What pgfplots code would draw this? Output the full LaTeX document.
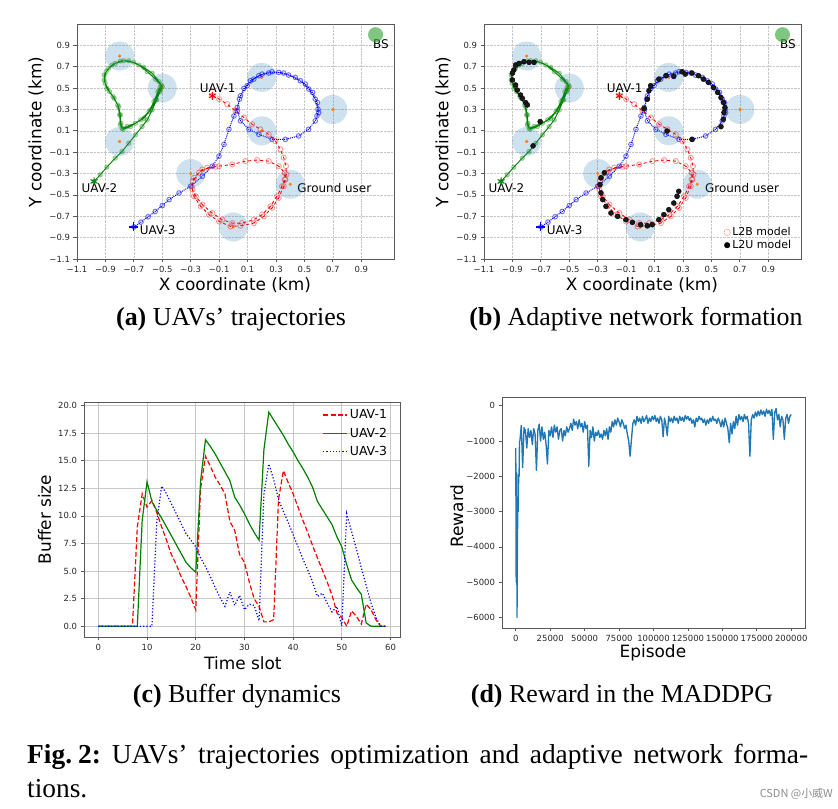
\documentclass[border=0pt]{standalone}
\usepackage{pgfplots}
\pgfplotsset{compat=1.18}
\usepackage{pgfplotstable}
\usepackage{fontspec}
\setmainfont{Liberation Serif}
\newfontfamily\dv{DejaVu Sans}
\newfontfamily\cjk{Noto Sans CJK SC}
\definecolor{tabblue}{RGB}{31,119,180}
\definecolor{taborange}{RGB}{255,127,14}
\definecolor{tabgreen}{RGB}{44,160,44}
\definecolor{mplgreen}{RGB}{0,128,0}

\pgfplotstableread[row sep=\\]{
x y \\
-0.148 0.428 \\ -0.10 0.396 \\ -0.043 0.349 \\ 0.015 0.287 \\ 0.074 0.224 \\ 0.132 0.161 \\ 0.19 0.114 \\ 0.249 0.067 \\ 0.296 0.004 \\ 0.331 -0.074 \\ 0.354 -0.152 \\ 0.37 -0.23 \\ 0.373 -0.309 \\ 0.361 -0.356 \\ 0.342 -0.419 \\ 0.307 -0.513 \\ 0.261 -0.607 \\ 0.202 -0.685 \\ 0.144 -0.732 \\ 0.062 -0.764 \\ -0.008 -0.764 \\ -0.078 -0.732 \\ -0.148 -0.67 \\ -0.218 -0.591 \\ -0.265 -0.513 \\ -0.288 -0.45 \\ -0.284 -0.372 \\ -0.242 -0.293 \\ -0.183 -0.246 \\ -0.101 -0.231 \\ -0.008 -0.215 \\ 0.085 -0.184 \\ 0.167 -0.174 \\ 0.249 -0.184 \\ 0.319 -0.231 \\ 0.361 -0.293 \\ 0.366 -0.356 \\ 0.354 -0.419 \\ 0.319 -0.528 \\ 0.272 -0.622 \\ 0.214 -0.701 \\ 0.144 -0.764 \\ 0.05 -0.789 \\ -0.02 -0.795 \\ -0.101 -0.748 \\ -0.171 -0.685 \\ -0.23 -0.607 \\ -0.277 -0.513 \\ -0.293 -0.419 \\ -0.277 -0.34 \\ -0.218 -0.262 \\ -0.125 -0.237 \\
}\redT

\pgfplotstableread[row sep=\\]{
x y \\
-0.70 -0.80 \\ -0.65 -0.755 \\ -0.60 -0.705 \\ -0.55 -0.655 \\ -0.50 -0.60 \\ -0.452 -0.544 \\ -0.382 -0.482 \\ -0.30 -0.419 \\ -0.218 -0.325 \\ -0.148 -0.231 \\ -0.101 -0.137 \\ -0.066 -0.027 \\ -0.031 0.114 \\ 0.004 0.239 \\ 0.027 0.318 \\ 0.05 0.428 \\ 0.097 0.522 \\ 0.144 0.584 \\ 0.202 0.631 \\ 0.272 0.653 \\ 0.354 0.641 \\ 0.436 0.60 \\ 0.506 0.538 \\ 0.557 0.459 \\ 0.592 0.365 \\ 0.60 0.271 \\ 0.576 0.193 \\ 0.529 0.114 \\ 0.459 0.052 \\ 0.366 0.02 \\ 0.272 0.02 \\ 0.179 0.067 \\ 0.109 0.114 \\ 0.05 0.193 \\ 0.027 0.287 \\ 0.043 0.397 \\ 0.074 0.497 \\ 0.12 0.569 \\ 0.179 0.616 \\ 0.249 0.641 \\ 0.319 0.647 \\ 0.389 0.622 \\ 0.471 0.569 \\ 0.53 0.491 \\ 0.576 0.397 \\ 0.595 0.302 \\ 0.588 0.24 \\
}\blueT

\pgfplotstableread[row sep=\\]{
x y \\
-0.98 -0.374 \\ -0.937 -0.312 \\ -0.89 -0.24 \\ -0.831 -0.156 \\ -0.783 -0.094 \\ -0.736 -0.016 \\ -0.689 0.062 \\ -0.642 0.14 \\ -0.606 0.202 \\ -0.571 0.295 \\ -0.54 0.389 \\ -0.516 0.467 \\ -0.50 0.513 \\ -0.523 0.56 \\ -0.571 0.638 \\ -0.63 0.694 \\ -0.701 0.741 \\ -0.772 0.756 \\ -0.831 0.731 \\ -0.878 0.685 \\ -0.909 0.622 \\ -0.902 0.545 \\ -0.871 0.467 \\ -0.838 0.404 \\ -0.807 0.326 \\ -0.795 0.249 \\ -0.791 0.171 \\ -0.783 0.124 \\ -0.748 0.14 \\ -0.689 0.171 \\ -0.63 0.217 \\ -0.583 0.295 \\ -0.547 0.389 \\ -0.516 0.482 \\ -0.507 0.529 \\ -0.547 0.582 \\ -0.606 0.654 \\ -0.665 0.716 \\ -0.736 0.756 \\ -0.795 0.753 \\ -0.854 0.716 \\ -0.895 0.654 \\ -0.909 0.576 \\ -0.89 0.498 \\ -0.847 0.42 \\ -0.814 0.342 \\ -0.80 0.249 \\ -0.795 0.155 \\ -0.776 0.115 \\ -0.724 0.14 \\ -0.653 0.202 \\ -0.594 0.28 \\ -0.559 0.373 \\ -0.531 0.467 \\ -0.516 0.507 \\
}\greenT

\pgfplotstableread[row sep=\\]{
x y \\
-0.89 0.67 \\ -0.9 0.64 \\ -0.878 0.716 \\ -0.854 0.731 \\ -0.819 0.747 \\ -0.783 0.741 \\ -0.748 0.741 \\ -0.90 0.576 \\ -0.878 0.529 \\ -0.866 0.482 \\ -0.843 0.435 \\ -0.83 0.404 \\ -0.807 0.364 \\ -0.795 0.342 \\ -0.705 0.186 \\ -0.755 -0.041 \\
0.06 0.475 \\ 0.072 0.522 \\ 0.049 0.396 \\ 0.026 0.308 \\ 0.13 0.584 \\ 0.181 0.616 \\ 0.235 0.609 \\ 0.293 0.653 \\ 0.316 0.631 \\ 0.363 0.641 \\ 0.409 0.616 \\ 0.444 0.584 \\ 0.479 0.553 \\ 0.514 0.506 \\ 0.544 0.459 \\ 0.567 0.412 \\ 0.584 0.365 \\ 0.595 0.318 \\ 0.588 0.271 \\ 0.584 0.208 \\ 0.567 0.139 \\ 0.363 0.02 \\ 0.188 0.098 \\
-0.277 -0.34 \\ -0.284 -0.403 \\ -0.277 -0.481 \\ -0.265 -0.544 \\ -0.242 -0.607 \\ -0.207 -0.67 \\ -0.16 -0.701 \\ -0.102 -0.732 \\ -0.056 -0.757 \\ 0.002 -0.779 \\ 0.049 -0.789 \\ 0.084 -0.779 \\ 0.13 -0.732 \\ 0.165 -0.685 \\ 0.2 -0.638 \\ 0.235 -0.576 \\ 0.258 -0.513 \\ 0.27 -0.466 \\ -0.253 -0.293 \\
}\ltuT

\pgfplotstableread[row sep=\\]{
x y \\
-0.8 0.8 \\ -0.5 0.5 \\ -0.8 0.0 \\ 0.2 0.6 \\ 0.7 0.3 \\ 0.2 0.1 \\ -0.3 -0.3 \\ 0.4 -0.4 \\ 0.0 -0.8 \\
}\gusT

\pgfplotstableread[row sep=\\]{
t u1 u2 u3 \\
0 0 0 0 \\ 1 0 0 0 \\ 2 0 0 0 \\ 3 0 0 0 \\ 4 0 0 0 \\ 5 0 0 0 \\ 6 0 0 0 \\ 7 0 0 0 \\
8 9 0 0 \\ 9 12 9.6 0 \\ 10 10.8 13.1 0 \\ 11 11.4 11.3 0 \\ 12 10.3 10.5 9.5 \\ 13 9 9.8 12.7 \\
14 7.8 9.0 12 \\ 15 6.5 8.2 11.1 \\ 16 5.6 7.4 10.2 \\ 17 4.5 6.6 9.3 \\ 18 3.6 5.8 8.4 \\ 19 2.6 5.3 7.8 \\
20 1.5 4.9 7.2 \\ 21 12.5 13.2 6.2 \\ 22 15.4 16.9 5.4 \\ 23 14.5 16.3 4.5 \\ 24 13.5 15.6 3.5 \\ 25 12.8 14.8 2.6 \\
26 12 14.0 1.8 \\ 27 9.5 13.2 3.1 \\ 28 8.7 11.7 1.9 \\ 29 6.5 11.0 2.8 \\ 30 5.8 10.2 1.5 \\ 31 4 9.3 2.0 \\
32 2.5 8.5 1.9 \\ 33 1.8 7.8 0.5 \\ 34 0.4 16 12 \\ 35 0.4 19.4 14.7 \\ 36 0.6 18.7 13.3 \\ 37 11.5 18 11.5 \\
38 14.1 17.3 10.4 \\ 39 13 16.5 9.4 \\ 40 12 15.8 8.3 \\ 41 10.8 15 7.2 \\ 42 9.6 14.3 6.1 \\ 43 8.5 13.5 5.1 \\
44 7.3 12.6 4 \\ 45 6.2 11.3 2.7 \\ 46 5.1 10.6 3 \\ 47 4 9.9 2.1 \\ 48 2.8 9.2 1.3 \\ 49 1.2 8.1 1.8 \\
50 0.8 7.2 0 \\ 51 0 5.6 10.2 \\ 52 1.4 4.2 8.6 \\ 53 0.9 3.5 7 \\ 54 0.2 2.9 5.3 \\ 55 2 0.3 3.7 \\
56 1.5 0 2.1 \\ 57 0.6 0 0.8 \\ 58 0 0 0 \\ 59 0 0 0 \\
}\bufT

\tikzset{lbl/.style={font=\dv\fontsize{12}{14}\selectfont, inner sep=0pt}}
\pgfplotsset{
  mpl/.style={scale only axis, axis line style={black!65, line width=0.8bp},
    tick style={black!65, line width=0.8bp}, tick align=outside, major tick length=3.5bp,
    xtick pos=bottom, ytick pos=left,
    tick label style={font=\dv\fontsize{8.5}{10}\selectfont, text=black!85},
    label style={font=\dv\fontsize{17}{19}\selectfont},
  },
  traj/.style={mpl, width=317bp, height=235bp,
    xmin=-1.1, xmax=1.13, ymin=-1.1, ymax=1.1,
    xtick={-1.1,-0.9,-0.7,-0.5,-0.3,-0.1,0.1,0.3,0.5,0.7,0.9},
    ytick={-1.1,-0.9,-0.7,-0.5,-0.3,-0.1,0.1,0.3,0.5,0.7,0.9},
    xticklabels={−1.1,−0.9,−0.7,−0.5,−0.3,−0.1,0.1,0.3,0.5,0.7,0.9},
    yticklabels={−1.1,−0.9,−0.7,−0.5,−0.3,−0.1,0.1,0.3,0.5,0.7,0.9},
    grid=major, major grid style={black!22, densely dotted, line width=0.6bp},
    xlabel={X coordinate (km)}, ylabel={Y coordinate (km)},
    xlabel style={at={(axis description cs:0.498,-0.111)}, anchor=center},
    ylabel style={at={(axis description cs:-0.129,0.54)}, anchor=center},
  },
  gu/.style={only marks, mark=*, mark size=14.5bp, mark options={draw=tabblue, fill=tabblue, draw opacity=0, fill opacity=0.22}},
  guc/.style={only marks, mark=*, mark size=1.4bp, mark options={draw=taborange, fill=taborange}},
  bs/.style={only marks, mark=*, mark size=7.5bp, mark options={draw=tabgreen, fill=tabgreen, draw opacity=0, fill opacity=0.6}},
  gpath/.style={mplgreen, line width=0.9bp, mark=*, mark size=2.2bp, mark options={fill=tabgreen, draw=mplgreen, fill opacity=0.3, draw opacity=0.35}},
  bpath/.style={blue, densely dotted, line width=1bp, mark=o, mark size=2.3bp, mark options={solid, draw=blue, draw opacity=0.55}},
  rpath/.style={red, dashed, line width=0.9bp, mark=o, mark size=2.6bp, mark options={solid, draw=red, draw opacity=0.4}},
}

\begin{document}
\begin{tikzpicture}
\useasboundingbox (0,0) rectangle (838bp,809bp);

% ---------------- (a)
\begin{axis}[traj, at={(77bp,550bp)}, anchor=south west]
\addplot[gu] table {\gusT};
\addplot[guc] table {\gusT};
\addplot[bs] coordinates {(1.0,1.0)};
\addplot[gpath] table {\greenT};
\addplot[bpath] table {\blueT};
\addplot[rpath] table {\redT};
\addplot[only marks, red, mark=asterisk, mark size=4bp, line width=1bp] coordinates {(-0.148,0.428)};
\addplot[only marks, mplgreen, mark=asterisk, mark size=4bp, line width=1bp] coordinates {(-0.98,-0.374)};
\addplot[only marks, blue, mark=+, mark size=4.5bp, line width=1.2bp] coordinates {(-0.70,-0.80)};
\node[lbl, anchor=west] at (axis cs:-0.237,0.50) {UAV-1};
\node[lbl, anchor=west] at (axis cs:-1.069,-0.437) {UAV-2};
\node[lbl, anchor=west] at (axis cs:-0.659,-0.826) {UAV-3};
\node[lbl, anchor=west] at (axis cs:0.449,-0.437) {Ground user};
\node[lbl, anchor=center] at (axis cs:1.038,0.91) {BS};
\end{axis}

% ---------------- (b)
\begin{axis}[traj, at={(484bp,550bp)}, anchor=south west,
  legend style={draw=none, fill=none, at={(0.985,0.02)}, anchor=south east,
    font=\dv\fontsize{11}{13}\selectfont, row sep=-1bp},
  legend cell align=left]
\addplot[forget plot, gu] table {\gusT};
\addplot[forget plot, guc] table {\gusT};
\addplot[forget plot, bs] coordinates {(1.0,1.0)};
\addplot[forget plot, gpath] table {\greenT};
\addplot[forget plot, bpath] table {\blueT};
\addplot[forget plot, rpath] table {\redT};
\addplot[forget plot, only marks, mark=*, mark size=2.5bp, mark options={draw=black, fill=black!90}] table {\ltuT};
\addplot[forget plot, only marks, red, mark=asterisk, mark size=4bp, line width=1bp] coordinates {(-0.148,0.428)};
\addplot[forget plot, only marks, mplgreen, mark=asterisk, mark size=4bp, line width=1bp] coordinates {(-0.98,-0.374)};
\addplot[forget plot, only marks, blue, mark=+, mark size=4.5bp, line width=1.2bp] coordinates {(-0.70,-0.80)};
\addlegendimage{only marks, mark=o, mark size=3.2bp, red!45}
\addlegendentry{L2B model}
\addlegendimage{only marks, mark=*, mark size=2.8bp, black}
\addlegendentry{L2U model}
\node[lbl, anchor=west] at (axis cs:-0.237,0.50) {UAV-1};
\node[lbl, anchor=west] at (axis cs:-1.069,-0.437) {UAV-2};
\node[lbl, anchor=west] at (axis cs:-0.659,-0.826) {UAV-3};
\node[lbl, anchor=west] at (axis cs:0.454,-0.437) {Ground user};
\node[lbl, anchor=center] at (axis cs:1.038,0.91) {BS};
\end{axis}

% ---------------- (c)
\begin{axis}[mpl, at={(84bp,172bp)}, anchor=south west, width=316bp, height=235bp,
  xmin=-2.95, xmax=61.95, ymin=-0.97, ymax=20.32,
  xtick={0,10,20,30,40,50,60}, xticklabels={0,10,20,30,40,50,60},
  ytick={0,2.5,5,7.5,10,12.5,15,17.5,20},
  yticklabels={0.0,2.5,5.0,7.5,10.0,12.5,15.0,17.5,20.0},
  grid=major, major grid style={black!22, line width=0.8bp},
  xlabel={Time slot}, ylabel={Buffer size},
  xlabel style={at={(axis description cs:0.503,-0.11)}, anchor=center},
  ylabel style={at={(axis description cs:-0.125,0.50)}, anchor=center},
  legend style={draw=none, fill=none, at={(0.975,0.985)}, anchor=north east,
    font=\dv\fontsize{12.5}{14}\selectfont, row sep=3.5bp},
  legend cell align=left,
  legend image code/.code={\draw[#1] (0bp,0bp) -- (24bp,0bp);}]
\addplot[red, line width=1.2bp, dash pattern=on 5bp off 2.4bp] table[x=t, y=u1] {\bufT};
\addlegendentry{UAV-1}
\addplot[mplgreen, line width=1.2bp] table[x=t, y=u2] {\bufT};
\addlegendentry{UAV-2}
\addplot[blue, line width=1.2bp, dash pattern=on 1.2bp off 2bp] table[x=t, y=u3] {\bufT};
\addlegendentry{UAV-3}
\end{axis}

% ---------------- (d)
\begin{axis}[mpl, at={(502bp,181bp)}, anchor=south west, width=303bp, height=231bp,
  xmin=-10000, xmax=210000, ymin=-6297, ymax=247, scaled ticks=false,
  xtick={0,25000,50000,75000,100000,125000,150000,175000,200000},
  xticklabels={0,25000,50000,75000,100000,125000,150000,175000,200000},
  ytick={-6000,-5000,-4000,-3000,-2000,-1000,0},
  yticklabels={−6000,−5000,−4000,−3000,−2000,−1000,0},
  xlabel={Episode}, ylabel={Reward},
  xlabel style={at={(axis description cs:0.498,-0.108)}, anchor=center},
  ylabel style={at={(axis description cs:-0.149,0.485)}, anchor=center}]
\addplot[tabblue, line width=1.35bp, line join=round] coordinates {
(0,-1200) (300,-5000) (600,-1900) (900,-6000) (1200,-3800) (1500,-2900) (1800,-3000) (2100,-1950) (2400,-2000) (2700,-1000)
(3000,-1000) (4000,-560) (5000,-1750) (6000,-620) (7000,-700) (8000,-1200) (9000,-650) (10000,-900)
(11000,-700) (12000,-1100) (13000,-650) (14000,-800) (15000,-1830) (16000,-700) (17000,-520) (18000,-1000) (19000,-600) (20000,-950)
(21000,-750) (22000,-1100) (23000,-1650) (24000,-700) (25000,-850) (26000,-600) (27000,-900) (28000,-550) (29000,-750) (30000,-600)
(31000,-950) (32000,-700) (33000,-650) (34000,-1000) (35000,-700) (36000,-850) (37000,-600) (38000,-750) (39000,-650) (40000,-500)
(41000,-700) (42000,-380) (43000,-550) (44000,-450) (45000,-650) (46000,-400) (47000,-600) (48000,-500) (49000,-750) (50000,-450)
(51000,-650) (52000,-550) (53000,-1720) (54000,-700) (55000,-900) (56000,-600) (57000,-1000) (58000,-750) (59000,-850) (60000,-700)
(61000,-900) (62000,-800) (63000,-950) (64000,-700) (65000,-850) (66000,-650) (67000,-950) (68000,-600) (69000,-750) (70000,-450)
(71000,-600) (72000,-400) (73000,-550) (74000,-350) (75000,-450) (76000,-600) (77000,-400) (78000,-500) (79000,-650) (80000,-550)
(81000,-800) (82000,-1000) (83000,-1430) (84000,-950) (85000,-500) (86000,-400) (87000,-550) (88000,-300) (89000,-450) (90000,-350)
(91000,-500) (92000,-300) (93000,-450) (94000,-380) (95000,-280) (96000,-500) (97000,-350) (98000,-450) (99000,-300) (100000,-400)
(101000,-280) (102000,-450) (103000,-350) (104000,-500) (105000,-300) (106000,-400) (107000,-880) (108000,-350) (109000,-550) (110000,-850)
(111000,-300) (112000,-450) (113000,-350) (114000,-480) (115000,-300) (116000,-420) (117000,-350) (118000,-500) (119000,-300) (120000,-420)
(121000,-330) (122000,-450) (123000,-280) (124000,-380) (125000,-300) (126000,-420) (127000,-350) (128000,-500) (129000,-400) (130000,-600)
(131000,-350) (132000,-450) (133000,-300) (134000,-400) (135000,-350) (136000,-480) (137000,-380) (138000,-550) (139000,-400) (140000,-500)
(141000,-350) (142000,-450) (143000,-300) (144000,-420) (145000,-380) (146000,-500) (147000,-350) (148000,-450) (149000,-600) (150000,-400)
(151000,-600) (152000,-350) (153000,-500) (154000,-650) (155000,-1050) (156000,-500) (157000,-800) (158000,-450) (159000,-650) (160000,-300)
(161000,-550) (162000,-250) (163000,-400) (164000,-300) (165000,-450) (166000,-250) (167000,-380) (168000,-300) (169000,-500) (170000,-1430)
(171000,-400) (172000,-250) (173000,-350) (174000,-180) (175000,-300) (176000,-150) (177000,-280) (178000,-120) (179000,-250) (180000,-150)
(181000,-300) (182000,-100) (183000,-220) (184000,-130) (185000,-280) (186000,-100) (187000,-950) (188000,-200) (189000,-80) (190000,-400)
(191000,-250) (192000,-600) (193000,-300) (194000,-400) (195000,-950) (196000,-350) (197000,-250) (198000,-500) (199000,-300) (200000,-250)
};
\end{axis}

% ---------------- captions
\node[anchor=base, inner sep=0pt, font=\fontsize{26}{29}\selectfont] at (231bp,483bp) {\textbf{(a)} UAVs’ trajectories};
\node[anchor=base, inner sep=0pt, font=\fontsize{26}{29}\selectfont] at (636bp,483bp) {\textbf{(b)} Adaptive network formation};
\node[anchor=base, inner sep=0pt, font=\fontsize{26}{29}\selectfont] at (237bp,106bp) {\textbf{(c)} Buffer dynamics};
\node[anchor=base, inner sep=0pt, font=\fontsize{26}{29}\selectfont] at (622bp,106bp) {\textbf{(d)} Reward in the MADDPG};
\node[anchor=base west, inner sep=0pt, font=\fontsize{27.5}{30}\selectfont] at (27bp,45bp) {\makebox[781bp][s]{\textbf{Fig.\hspace{6bp}2:}\hspace{11bp}UAVs’ trajectories optimization and adaptive network forma-}};
\node[anchor=base west, inner sep=0pt, font=\fontsize{27.5}{30}\selectfont] at (27bp,12bp) {tions.};
\node[anchor=base east, inner sep=0pt, font=\cjk\fontsize{11}{12}\selectfont, text=black!45] at (833bp,12bp) {CSDN @小威W};
\end{tikzpicture}
\end{document}
